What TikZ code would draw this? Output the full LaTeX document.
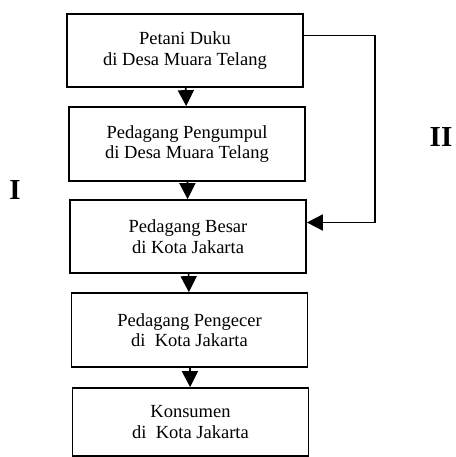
\documentclass[tikz,border=0pt]{standalone}
\usepackage{fontspec}
\setmainfont{Liberation Serif}
\usetikzlibrary{arrows.meta,calc}
\begin{document}
\begin{tikzpicture}[x=1pt,y=-1pt,
  box/.style={draw,line width=1.7pt,minimum width=236pt,inner sep=0pt,align=center,
    font=\fontsize{18.5}{20.5}\selectfont},
  arr/.style={line width=1.7pt,-{Triangle[length=16pt,width=16pt]}},
  roman/.style={font=\fontsize{29}{30}\selectfont\bfseries}]
\useasboundingbox (0,0) rectangle (455,457);
\node[box,minimum height=73pt] (b1) at (185,50.5) {Petani Duku\\di Desa Muara Telang};
\node[box,minimum height=74pt] (b2) at (187,144) {Pedagang Pengumpul\\di Desa Muara Telang};
\node[box,minimum height=73pt] (b3) at (188,236.5) {Pedagang Besar\\di Kota Jakarta};
\node[box,minimum height=74pt] (b4) at (189.5,330) {Pedagang Pengecer\\di~ Kota Jakarta};
\node[box,minimum height=68pt] (b5) at (190.5,422) {Konsumen\\di~ Kota Jakarta};
\node[roman] (r1) at (15,190) {I};
\node[roman] (r2) at (441,137) {II};
\draw[arr] (b1) -- (b2);
\draw[arr] (b2) -- (b3);
\draw[arr] (b3) -- (b4);
\draw[arr] (b4) -- (b5);
\coordinate (s) at ([yshift=15pt]b1.east);
\coordinate (e) at ([yshift=14pt]b3.east);
\coordinate (c) at (375,0);
\draw[arr] (s) -- (s -| c) -- (e -| c) -- (e);
\end{tikzpicture}
\end{document}
